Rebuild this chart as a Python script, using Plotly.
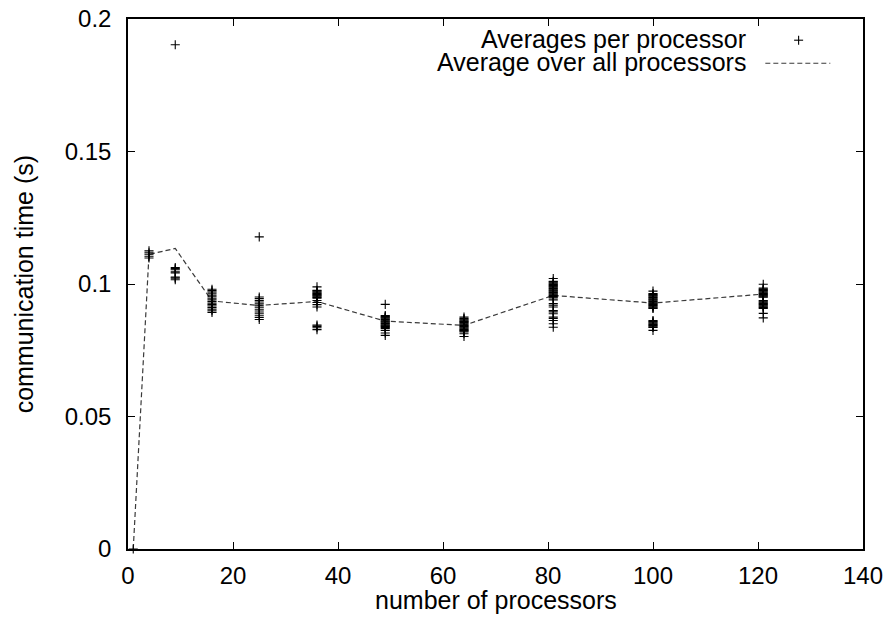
import plotly.graph_objects as go

# Number of processors (x groups) and per-processor average communication times
procs = [1, 4, 9, 16, 25, 36, 49, 64, 81, 100, 121]

per_proc = {
    1: [0.0],
    4: [0.1125, 0.1118, 0.1112, 0.1105, 0.1098],
    9: [0.1903, 0.1062, 0.1058, 0.1054, 0.1046, 0.1042, 0.1026, 0.1022,
        0.1016],
    16: [0.0980, 0.0975, 0.0970, 0.0965, 0.0958, 0.0952, 0.0946, 0.0940,
         0.0934, 0.0928, 0.0922, 0.0917, 0.0911, 0.0905, 0.0899, 0.0893],
    25: [0.1178, 0.0951, 0.0945, 0.0938, 0.0932, 0.0925, 0.0918, 0.0912,
         0.0905, 0.0898, 0.0890, 0.0882, 0.0874, 0.0866],
    36: [0.0989, 0.0976, 0.0973, 0.0970, 0.0967, 0.0964, 0.0961, 0.0958,
         0.0955, 0.0952, 0.0949, 0.0946, 0.0938, 0.0930, 0.0922, 0.0913,
         0.0845, 0.0840, 0.0835, 0.0828],
    49: [0.0923, 0.0881, 0.0878, 0.0875, 0.0872, 0.0869, 0.0866, 0.0863,
         0.0860, 0.0857, 0.0854, 0.0851, 0.0848, 0.0845, 0.0842, 0.0839,
         0.0836, 0.0832, 0.0825, 0.0815, 0.0806],
    64: [0.0875, 0.0870, 0.0867, 0.0864, 0.0861, 0.0858, 0.0855, 0.0852,
         0.0849, 0.0846, 0.0843, 0.0840, 0.0837, 0.0834, 0.0831, 0.0828,
         0.0825, 0.0822, 0.0819, 0.0812, 0.0802],
    81: [0.1021, 0.1010, 0.1007, 0.1004, 0.1001, 0.0998, 0.0995, 0.0992,
         0.0989, 0.0986, 0.0983, 0.0980, 0.0977, 0.0974, 0.0971, 0.0968,
         0.0965, 0.0962, 0.0959, 0.0956, 0.0953, 0.0950, 0.0947, 0.0940,
         0.0926, 0.0920, 0.0913, 0.0900, 0.0895, 0.0888, 0.0875, 0.0870,
         0.0862, 0.0850, 0.0837],
    100: [0.0973, 0.0964, 0.0961, 0.0958, 0.0955, 0.0952, 0.0949, 0.0946,
          0.0943, 0.0940, 0.0937, 0.0934, 0.0931, 0.0928, 0.0925, 0.0922,
          0.0919, 0.0916, 0.0913, 0.0910, 0.0908, 0.0862, 0.0859, 0.0856,
          0.0853, 0.0850, 0.0847, 0.0844, 0.0841, 0.0838, 0.0836, 0.0825],
    121: [0.0999, 0.0985, 0.0982, 0.0979, 0.0976, 0.0973, 0.0970, 0.0967,
          0.0964, 0.0961, 0.0958, 0.0955, 0.0952, 0.0950, 0.0938, 0.0935,
          0.0932, 0.0929, 0.0926, 0.0923, 0.0920, 0.0917, 0.0914, 0.0911,
          0.0908, 0.0889, 0.0872],
}

avg_all = [0.0, 0.1112, 0.1134, 0.0936, 0.0919, 0.0934, 0.0860, 0.0844,
           0.0957, 0.0928, 0.0962]

x_ticks = [0, 20, 40, 60, 80, 100, 120, 140]
y_ticks = [0, 0.05, 0.1, 0.15, 0.2]
y_tick_text = ["0", "0.05", "0.1", "0.15", "0.2"]

legend_labels = ["Averages per processor", "Average over all processors"]
x_title = "number of processors"
y_title = "communication time (s)"

pts_x, pts_y = [], []
for p in procs:
    for v in per_proc[p]:
        pts_x.append(p)
        pts_y.append(v)

FONT = "Liberation Sans, Arial, Helvetica, sans-serif"

fig = go.Figure()
fig.add_trace(go.Scatter(
    x=procs, y=avg_all, mode="lines",
    line=dict(color="#3a3a3a", width=1.2, dash="5px,3px"),
    showlegend=False, hoverinfo="skip",
))
fig.add_trace(go.Scatter(
    x=pts_x, y=pts_y, mode="markers",
    marker=dict(symbol="cross-thin", size=6.5, color="black",
                line=dict(color="black", width=1.1)),
    cliponaxis=False, showlegend=False,
))

axis_common = dict(
    showgrid=False, zeroline=False, showline=True, linecolor="black",
    linewidth=1.5, mirror="allticks", ticks="inside", ticklen=7,
    tickwidth=1.2, tickcolor="black", automargin=False,
    tickfont=dict(family=FONT, size=24, color="black"),
)

fig.update_xaxes(range=[0, 140], tickvals=x_ticks, ticklabelstandoff=4,
                 **axis_common)
fig.update_yaxes(range=[0, 0.2], tickvals=y_ticks, ticktext=y_tick_text,
                 ticklabelstandoff=10, **axis_common)

annotations = [
    dict(text=x_title, xref="paper", yref="paper", x=0.5, y=-0.097,
         xanchor="center", yanchor="middle", showarrow=False,
         font=dict(family=FONT, size=25, color="black")),
    dict(text=y_title, xref="paper", yref="paper", x=-0.141, y=0.5,
         xanchor="center", yanchor="middle", textangle=-90, showarrow=False,
         font=dict(family=FONT, size=25, color="black")),
    dict(text=legend_labels[0], xref="paper", yref="paper", x=0.8440,
         y=0.9619, xanchor="right", yanchor="middle", showarrow=False,
         font=dict(family=FONT, size=25, color="black")),
    dict(text=legend_labels[1], xref="paper", yref="paper", x=0.8440,
         y=0.9193, xanchor="right", yanchor="middle", showarrow=False,
         font=dict(family=FONT, size=25, color="black")),
]

shapes = [
    # legend sample: plus marker
    dict(type="line", xref="paper", yref="paper", xsizemode="pixel",
         ysizemode="pixel", xanchor=0.9124, yanchor=0.9600,
         x0=-4.5, x1=4.5, y0=0, y1=0, line=dict(color="black", width=1.1)),
    dict(type="line", xref="paper", yref="paper", xsizemode="pixel",
         ysizemode="pixel", xanchor=0.9124, yanchor=0.9600,
         x0=0, x1=0, y0=-4.5, y1=4.5, line=dict(color="black", width=1.1)),
    # legend sample: dashed line
    dict(type="line", xref="paper", yref="paper", x0=0.8671, x1=0.9555,
         y0=0.9165, y1=0.9165,
         line=dict(color="#3a3a3a", width=1.2, dash="5px,3px")),
]

fig.update_layout(
    width=888, height=628,
    margin=dict(l=128, r=25, t=19, b=79),
    paper_bgcolor="white", plot_bgcolor="white",
    annotations=annotations, shapes=shapes,
    font=dict(family=FONT, color="black"),
    showlegend=False,
)

fig.write_html("out.html")
